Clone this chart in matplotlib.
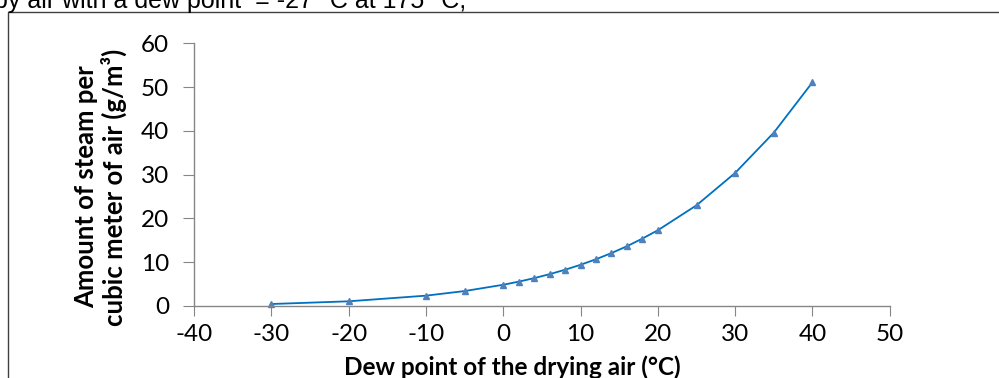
import matplotlib
matplotlib.use("Agg")
import matplotlib.pyplot as plt
import matplotlib.patches as patches

# dew point (°C) and amount of steam (g/m3)
dew_point = [-30, -20, -10, -5, 0, 2, 4, 6, 8, 10, 12, 14, 16, 18, 20, 25, 30, 35, 40]
steam = [0.45, 1.07, 2.36, 3.41, 4.85, 5.56, 6.36, 7.27, 8.28, 9.41, 10.68,
         12.09, 13.65, 15.4, 17.3, 23.0, 30.4, 39.6, 51.1]
x_ticks = [-40, -30, -20, -10, 0, 10, 20, 30, 40, 50]
y_ticks = [0, 10, 20, 30, 40, 50, 60]

plt.rcParams['font.family'] = ['Lato', 'DejaVu Sans']
plt.rcParams['axes.unicode_minus'] = False
grey = "#868686"

fig = plt.figure(figsize=(9.99, 3.78), dpi=100)
ax = fig.add_axes([0.1942, 0.1905, 0.6965, 0.695])

ax.plot(dew_point, steam, color="#0070C0", lw=1.3, marker="^", ms=5,
        markerfacecolor="#4F81BD", markeredgecolor="#4F81BD", clip_on=False)

ax.set_xlim(-40, 50)
ax.set_ylim(0, 60)
ax.set_xticks(x_ticks)
ax.set_yticks(y_ticks)
for s in ["top", "right"]:
    ax.spines[s].set_visible(False)
for s in ["left", "bottom"]:
    ax.spines[s].set_color(grey)
    ax.spines[s].set_linewidth(1.0)
ax.tick_params(axis="x", direction="out", length=7, color=grey, pad=6, labelsize=17.5)
ax.tick_params(axis="y", direction="out", length=8, color=grey, pad=10, labelsize=17.5)

fig.text(512 / 999, 1 - 367 / 378, "Dew point of the drying air (°C)",
         ha="center", va="center", fontsize=17.5, fontweight="bold")
fig.text(101 / 999, 1 - 187 / 378, "Amount of steam per\ncubic meter of air (g/m³)",
         ha="center", va="center", rotation=90, fontsize=18.5, fontweight="bold",
         multialignment="center", linespacing=1.12)

# partially visible sentence above the chart
fig.text(-0.006, 1 - 8 / 378, "by air with a dew point  = -27 °C at 175 °C,",
         ha="left", va="baseline", fontsize=18, family="Liberation Sans")

# chart border
fig.add_artist(patches.Rectangle((8 / 999, -0.1), 1.2, 1 - 12 / 378 + 0.1,
                                 transform=fig.transFigure, fill=False,
                                 edgecolor="#404040", lw=1.0))

fig.savefig("out.png", dpi=100)
